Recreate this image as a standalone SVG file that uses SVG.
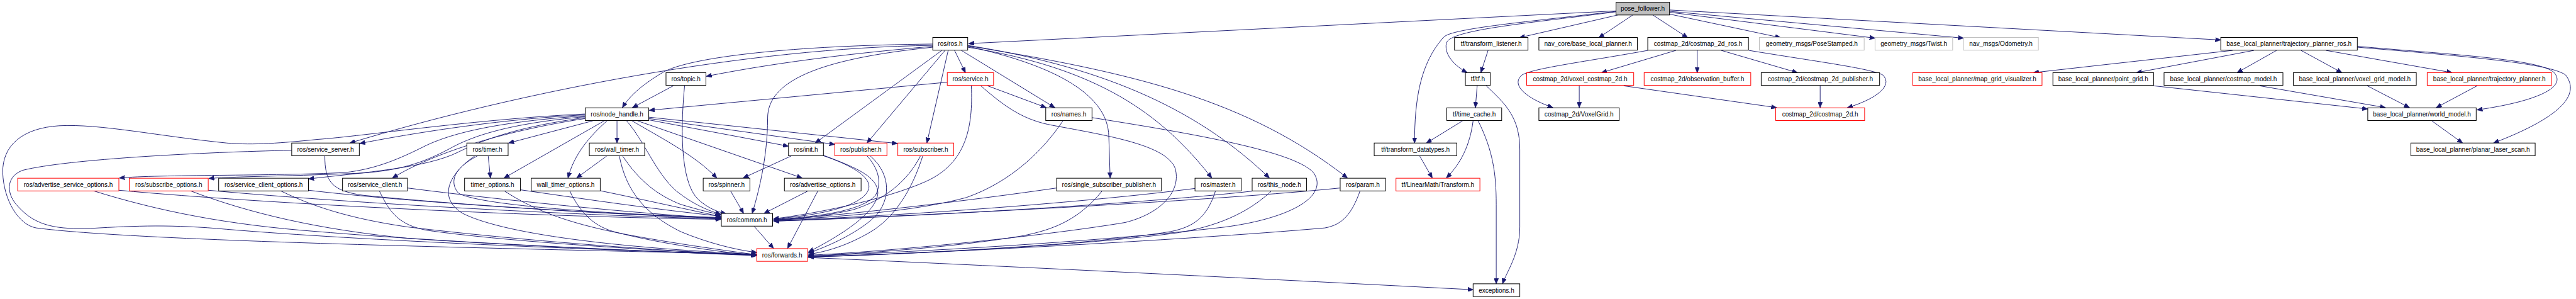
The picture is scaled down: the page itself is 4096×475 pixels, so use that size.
<svg xmlns="http://www.w3.org/2000/svg" width="4096" height="475" viewBox="0 0 4096 475">
<style>
.n rect{fill:#fff;stroke:#000;stroke-width:1.4}
.n.r rect{stroke:#f00}
.n.g rect{stroke:#bfbfbf}
.n.root rect{fill:#bfbfbf}
.n text{font-family:"Liberation Sans",Arial,sans-serif;font-size:14px;text-anchor:middle;fill:#000}
#edges path{fill:none;stroke:#191970;stroke-width:1.3;marker-end:url(#a)}
</style>
<defs>
<marker id="a" markerUnits="userSpaceOnUse" markerWidth="13" markerHeight="10" refX="12" refY="5" orient="auto" viewBox="0 0 13 10"><path d="M0,0 L12,5 L0,10 z" fill="#191970" stroke="#191970" stroke-width="1"/></marker>
</defs>
<rect x="0" y="0" width="4096" height="475" fill="#fff"/>
<g transform="scale(0.72138)">
<g id="edges">
<path d="M3562,24 L2135,96"/>
<path d="M3566,33 L3349,83"/>
<path d="M3599,33 L3524,83"/>
<path d="M3643,33 L3720,83"/>
<path d="M3680,31 L3925,83"/>
<path d="M3680,27 L4133,84"/>
<path d="M3680,25 L4328,84"/>
<path d="M3680,22 L4895,88"/>
<path d="M3562,26 C3380,50 3195,65 3188,95 C3182,125 3215,150 3234,160"/>
<path d="M3562,25 C3370,48 3200,62 3182,82 C3130,140 3118,220 3118,315"/>
<path d="M2056,97 C1750,100 1520,125 1460,160 C1410,190 1385,215 1372,237"/>
<path d="M2056,100 C1650,105 1150,200 771,315"/>
<path d="M2056,102 C1850,120 1700,140 1557,168"/>
<path d="M2056,104 C1800,130 1692,180 1692,260 C1692,350 1670,430 1658,470"/>
<path d="M2076,111 L1797,315"/>
<path d="M2083,111 L1911,315"/>
<path d="M2090,111 L2043,315"/>
<path d="M2104,111 L2128,160"/>
<path d="M2119,111 L2325,237"/>
<path d="M2133,102 C2330,145 2442,210 2444,300 L2447,392"/>
<path d="M2133,104 C2420,150 2560,250 2671,392"/>
<path d="M2133,100 C2450,150 2650,250 2798,392"/>
<path d="M2133,101 C2500,160 2750,220 2970,392"/>
<path d="M2088,181 L1431,243"/>
<path d="M2177,189 L2306,237"/>
<path d="M2141,189 C2145,280 2130,360 2040,400 C1950,440 1800,470 1705,482"/>
<path d="M2162,189 C2220,240 2260,265 2320,276 C2450,300 2570,320 2590,370 C2605,420 2560,470 2480,490 C2300,520 1950,555 1782,562"/>
<path d="M1484,189 L1394,237"/>
<path d="M1509,189 C1502,260 1495,400 1540,440 C1560,458 1580,466 1601,471"/>
<path d="M1307,266 L1121,315"/>
<path d="M1332,266 L1111,392"/>
<path d="M1338,266 C1300,300 1265,340 1252,392"/>
<path d="M1360,266 L1360,315"/>
<path d="M1381,266 C1420,310 1445,380 1490,420 C1530,452 1565,465 1589,472"/>
<path d="M1393,266 C1450,300 1530,340 1580,392"/>
<path d="M1405,266 L1768,392"/>
<path d="M1430,264 L1738,322"/>
<path d="M1430,261 L1840,318"/>
<path d="M1430,258 L1978,316"/>
<path d="M1290,253 C1100,262 900,295 793,316"/>
<path d="M1290,255 C1100,268 1000,292 940,320 C880,350 830,372 760,380 C600,388 350,384 263,392"/>
<path d="M1290,257 C1120,272 1040,300 990,328 C930,360 880,375 800,381 C650,388 530,388 460,393"/>
<path d="M1290,259 C1150,278 1070,305 1010,335 C940,370 800,380 680,394"/>
<path d="M1290,261 C1100,290 950,340 865,392"/>
<path d="M1290,251 C1050,262 800,300 700,307 C620,315 560,320 500,315 C350,300 220,272 130,277 C50,282 5,320 6,380 C8,440 40,495 80,502 C300,530 1000,545 1668,560"/>
<path d="M716,343 C716,400 730,420 800,430 C1000,450 1300,470 1589,480"/>
<path d="M643,331 C450,335 150,350 50,375 C10,390 15,430 40,455 C80,500 130,505 200,503 C300,497 380,494 500,505 C800,530 1300,550 1668,561"/>
<path d="M898,414 C1100,440 1400,470 1589,481"/>
<path d="M836,420 C860,470 880,495 940,507 C1100,530 1400,550 1668,562"/>
<path d="M680,419 C900,445 1300,470 1589,481"/>
<path d="M618,420 C680,450 760,480 900,500 C1150,530 1450,552 1668,562"/>
<path d="M459,419 C800,450 1300,475 1589,482"/>
<path d="M419,420 C550,470 700,505 900,525 C1200,545 1500,556 1668,562"/>
<path d="M262,419 C600,450 1200,478 1589,483"/>
<path d="M205,420 C350,465 500,495 700,510 C1000,535 1400,552 1668,563"/>
<path d="M1076,343 L1081,392"/>
<path d="M1053,343 C1000,370 990,400 1010,425 C1050,450 1300,470 1589,479"/>
<path d="M1047,343 C980,390 970,440 1020,470 C1120,520 1400,548 1668,560"/>
<path d="M1147,418 C1300,440 1450,462 1589,476"/>
<path d="M1111,420 C1180,465 1260,495 1400,520 C1500,538 1600,552 1668,561"/>
<path d="M1323,420 C1420,440 1500,458 1589,477"/>
<path d="M1256,421 C1280,470 1310,500 1360,512 C1450,535 1580,555 1668,562"/>
<path d="M1338,343 L1271,392"/>
<path d="M1372,343 C1410,400 1450,430 1500,450 C1540,462 1565,468 1589,473"/>
<path d="M1365,343 C1380,420 1420,470 1500,510 C1560,535 1620,550 1668,556"/>
<path d="M1610,420 L1639,470"/>
<path d="M1745,343 L1638,392"/>
<path d="M1815,343 C1880,365 1920,390 1915,415 C1905,455 1800,475 1705,482"/>
<path d="M1815,342 C1890,370 1935,390 1935,425 C1932,470 1850,520 1782,555"/>
<path d="M1782,420 L1684,470"/>
<path d="M1803,420 L1736,547"/>
<path d="M1662,498 L1705,547"/>
<path d="M1911,343 C1935,370 1945,400 1930,430 C1900,465 1800,478 1705,483"/>
<path d="M1918,343 C1960,380 1965,430 1935,470 C1900,510 1820,545 1782,557"/>
<path d="M2029,343 C2000,400 1950,440 1880,462 C1800,480 1750,482 1705,484"/>
<path d="M2034,343 C2010,420 1970,480 1920,510 C1870,540 1820,555 1782,560"/>
<path d="M2343,266 C2300,330 2230,400 2130,435 C2020,465 1850,478 1705,485"/>
<path d="M2407,259 C2600,290 2850,330 2895,380 C2930,430 2850,480 2700,500 C2400,535 2000,555 1782,564"/>
<path d="M2329,414 C2150,440 1900,470 1705,485"/>
<path d="M2429,421 C2380,480 2330,505 2250,520 C2100,545 1900,558 1782,564"/>
<path d="M2634,415 C2400,445 2000,475 1705,486"/>
<path d="M2679,421 C2660,480 2630,500 2580,510 C2400,540 2000,560 1782,565"/>
<path d="M2760,421 C2500,450 2000,478 1705,487"/>
<path d="M2802,421 C2760,460 2700,495 2600,512 C2400,540 2000,560 1782,566"/>
<path d="M2954,414 C2700,440 2100,472 1705,487"/>
<path d="M2998,420 C2980,470 2960,495 2920,502 C2600,530 2000,560 1782,566"/>
<path d="M1780,567 C2300,590 2800,615 3247,638"/>
<path d="M3280,111 L3264,160"/>
<path d="M3256,189 L3252,237"/>
<path d="M3276,189 C3320,230 3350,260 3350,330 L3350,500 C3350,560 3320,600 3312,625"/>
<path d="M3224,266 L3144,315"/>
<path d="M3247,266 C3240,320 3220,360 3188,392"/>
<path d="M3258,266 C3290,330 3298,380 3298,450 L3298,625"/>
<path d="M3129,343 L3157,392"/>
<path d="M3694,111 L3530,160"/>
<path d="M3741,111 L3741,160"/>
<path d="M3632,111 C3500,135 3380,150 3355,165 C3330,185 3360,215 3423,237"/>
<path d="M3794,111 L3962,160"/>
<path d="M3855,111 C4000,135 4120,150 4150,165 C4175,190 4130,220 4072,237"/>
<path d="M3481,189 L3481,237"/>
<path d="M3579,189 L3916,237"/>
<path d="M4012,189 L4012,237"/>
<path d="M4921,111 L4482,160"/>
<path d="M4968,111 L4709,160"/>
<path d="M5018,111 L4931,160"/>
<path d="M5072,111 L5162,160"/>
<path d="M5127,111 L5405,160"/>
<path d="M5196,102 C5400,120 5600,130 5630,160 C5660,195 5580,225 5460,242"/>
<path d="M5196,104 C5450,125 5620,140 5655,165 C5690,210 5640,260 5496,315"/>
<path d="M4747,189 L5219,240"/>
<path d="M4981,189 L5258,237"/>
<path d="M5218,189 L5311,237"/>
<path d="M5460,189 L5370,237"/>
<path d="M5360,266 L5428,315"/>
</g>
<g id="pose_follower" class="n root"><rect x="3562" y="5" width="118" height="28"/><text x="3621" y="24">pose_follower.h</text></g>
<g id="ros_ros" class="n"><rect x="2056" y="82.5" width="77" height="28"/><text x="2094.5" y="101.5">ros/ros.h</text></g>
<g id="tf_transform_listener" class="n"><rect x="3206" y="82.5" width="162" height="28"/><text x="3287" y="101.5">tf/transform_listener.h</text></g>
<g id="nav_core_blp" class="n"><rect x="3392" y="82.5" width="217" height="28"/><text x="3500.5" y="101.5">nav_core/base_local_planner.h</text></g>
<g id="costmap_2d_ros" class="n"><rect x="3632" y="82.5" width="222" height="28"/><text x="3743" y="101.5">costmap_2d/costmap_2d_ros.h</text></g>
<g id="pose_stamped" class="n g"><rect x="3878" y="82.5" width="231" height="28"/><text x="3993.5" y="101.5">geometry_msgs/PoseStamped.h</text></g>
<g id="twist" class="n g"><rect x="4133" y="82.5" width="171" height="28"/><text x="4218.5" y="101.5">geometry_msgs/Twist.h</text></g>
<g id="odometry" class="n g"><rect x="4328" y="82.5" width="165" height="28"/><text x="4410.5" y="101.5">nav_msgs/Odometry.h</text></g>
<g id="traj_planner_ros" class="n"><rect x="4895" y="82.5" width="301" height="28"/><text x="5045.5" y="101.5">base_local_planner/trajectory_planner_ros.h</text></g>
<g id="ros_topic" class="n"><rect x="1468" y="160" width="88" height="28"/><text x="1512" y="179">ros/topic.h</text></g>
<g id="ros_service" class="n r"><rect x="2088" y="160" width="102" height="28"/><text x="2139" y="179">ros/service.h</text></g>
<g id="tf_tf" class="n"><rect x="3230" y="160" width="55" height="28"/><text x="3257.5" y="179">tf/tf.h</text></g>
<g id="voxel_costmap_2d" class="n r"><rect x="3365" y="160" width="236" height="28"/><text x="3483" y="179">costmap_2d/voxel_costmap_2d.h</text></g>
<g id="observation_buffer" class="n r"><rect x="3624" y="160" width="235" height="28"/><text x="3741.5" y="179">costmap_2d/observation_buffer.h</text></g>
<g id="costmap_2d_publisher" class="n"><rect x="3882" y="160" width="261" height="28"/><text x="4012.5" y="179">costmap_2d/costmap_2d_publisher.h</text></g>
<g id="map_grid_visualizer" class="n r"><rect x="4216" y="160" width="285" height="28"/><text x="4358.5" y="179">base_local_planner/map_grid_visualizer.h</text></g>
<g id="point_grid" class="n"><rect x="4525" y="160" width="222" height="28"/><text x="4636" y="179">base_local_planner/point_grid.h</text></g>
<g id="costmap_model" class="n"><rect x="4770" y="160" width="262" height="28"/><text x="4901" y="179">base_local_planner/costmap_model.h</text></g>
<g id="voxel_grid_model" class="n"><rect x="5055" y="160" width="271" height="28"/><text x="5190.5" y="179">base_local_planner/voxel_grid_model.h</text></g>
<g id="traj_planner" class="n r"><rect x="5350" y="160" width="274" height="28"/><text x="5487" y="179">base_local_planner/trajectory_planner.h</text></g>
<g id="ros_node_handle" class="n"><rect x="1290" y="237.5" width="140" height="28"/><text x="1360" y="256.5">ros/node_handle.h</text></g>
<g id="ros_names" class="n"><rect x="2305" y="237.5" width="102" height="28"/><text x="2356" y="256.5">ros/names.h</text></g>
<g id="tf_time_cache" class="n"><rect x="3189" y="237.5" width="121" height="28"/><text x="3249.5" y="256.5">tf/time_cache.h</text></g>
<g id="voxel_grid" class="n"><rect x="3392" y="237.5" width="177" height="28"/><text x="3480.5" y="256.5">costmap_2d/VoxelGrid.h</text></g>
<g id="costmap_2d" class="n r"><rect x="3914" y="237.5" width="196" height="28"/><text x="4012" y="256.5">costmap_2d/costmap_2d.h</text></g>
<g id="world_model" class="n"><rect x="5219" y="237.5" width="239" height="28"/><text x="5338.5" y="256.5">base_local_planner/world_model.h</text></g>
<g id="ros_service_server" class="n"><rect x="643" y="315" width="149" height="28"/><text x="717.5" y="334">ros/service_server.h</text></g>
<g id="ros_timer" class="n"><rect x="1029" y="315" width="91" height="28"/><text x="1074.5" y="334">ros/timer.h</text></g>
<g id="ros_wall_timer" class="n"><rect x="1299" y="315" width="122" height="28"/><text x="1360" y="334">ros/wall_timer.h</text></g>
<g id="ros_init" class="n"><rect x="1738" y="315" width="77" height="28"/><text x="1776.5" y="334">ros/init.h</text></g>
<g id="ros_publisher" class="n r"><rect x="1840" y="315" width="115" height="28"/><text x="1897.5" y="334">ros/publisher.h</text></g>
<g id="ros_subscriber" class="n r"><rect x="1979" y="315" width="123" height="28"/><text x="2040.5" y="334">ros/subscriber.h</text></g>
<g id="tf_transform_datatypes" class="n"><rect x="3029" y="315" width="182" height="28"/><text x="3120" y="334">tf/transform_datatypes.h</text></g>
<g id="planar_laser_scan" class="n"><rect x="5314" y="315" width="274" height="28"/><text x="5451" y="334">base_local_planner/planar_laser_scan.h</text></g>
<g id="ros_adv_service_options" class="n r"><rect x="39" y="392.5" width="223" height="28"/><text x="150.5" y="411.5">ros/advertise_service_options.h</text></g>
<g id="ros_subscribe_options" class="n r"><rect x="285" y="392.5" width="174" height="28"/><text x="372" y="411.5">ros/subscribe_options.h</text></g>
<g id="ros_service_client_options" class="n"><rect x="482" y="392.5" width="198" height="28"/><text x="581" y="411.5">ros/service_client_options.h</text></g>
<g id="ros_service_client" class="n"><rect x="755" y="392.5" width="143" height="28"/><text x="826.5" y="411.5">ros/service_client.h</text></g>
<g id="timer_options" class="n"><rect x="1024" y="392.5" width="123" height="28"/><text x="1085.5" y="411.5">timer_options.h</text></g>
<g id="wall_timer_options" class="n"><rect x="1171" y="392.5" width="152" height="28"/><text x="1247" y="411.5">wall_timer_options.h</text></g>
<g id="ros_spinner" class="n"><rect x="1550" y="392.5" width="103" height="28"/><text x="1601.5" y="411.5">ros/spinner.h</text></g>
<g id="ros_advertise_options" class="n"><rect x="1729" y="392.5" width="169" height="28"/><text x="1813.5" y="411.5">ros/advertise_options.h</text></g>
<g id="ros_single_sub_pub" class="n"><rect x="2329" y="392.5" width="231" height="28"/><text x="2444.5" y="411.5">ros/single_subscriber_publisher.h</text></g>
<g id="ros_master" class="n"><rect x="2634" y="392.5" width="102" height="28"/><text x="2685" y="411.5">ros/master.h</text></g>
<g id="ros_this_node" class="n"><rect x="2760" y="392.5" width="120" height="28"/><text x="2820" y="411.5">ros/this_node.h</text></g>
<g id="ros_param" class="n"><rect x="2954" y="392.5" width="100" height="28"/><text x="3004" y="411.5">ros/param.h</text></g>
<g id="tf_linearmath_transform" class="n r"><rect x="3077" y="392.5" width="185" height="28"/><text x="3169.5" y="411.5">tf/LinearMath/Transform.h</text></g>
<g id="ros_common" class="n"><rect x="1590" y="470" width="113" height="28"/><text x="1646.5" y="489">ros/common.h</text></g>
<g id="ros_forwards" class="n r"><rect x="1668" y="547.5" width="112" height="28"/><text x="1724" y="566.5">ros/forwards.h</text></g>
<g id="exceptions" class="n"><rect x="3247" y="625" width="103" height="28"/><text x="3298.5" y="644">exceptions.h</text></g>
</g>
</svg>
